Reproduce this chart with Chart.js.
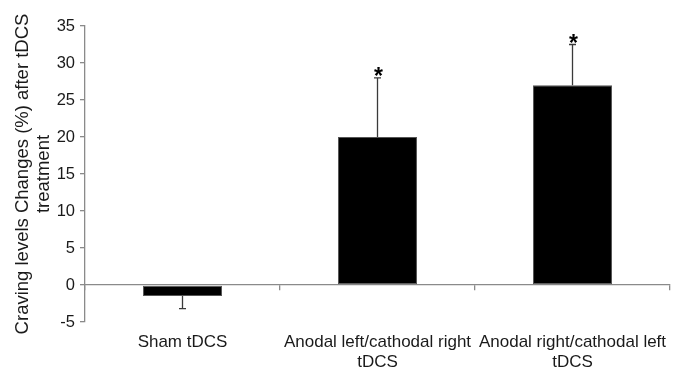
<!DOCTYPE html>
<html>
<head>
<meta charset="utf-8">
<script src="https://cdn.jsdelivr.net/npm/chart.js@4/dist/chart.umd.min.js"></script>
<style>
  html, body { margin: 0; padding: 0; background: #fff; }
  #wrap { width: 675px; height: 370px; position: relative; }
</style>
</head>
<body>
<div id="wrap"><canvas id="c"></canvas></div>
<script>
const categories = [["Sham tDCS"], ["Anodal left/cathodal right", "tDCS"], ["Anodal right/cathodal left", "tDCS"]];
const meanChange = [-1.5, 20, 27];
const errorSize = [1.7, 8, 5.5];
const significant = [false, true, true];
const yTicks = [-5, 0, 5, 10, 15, 20, 25, 30, 35];

const AXIS = '#8a8a8a';
const TEXT = '#1a1a1a';
const FONT = "'Liberation Sans', Arial, sans-serif";

const errorPlugin = {
  id: 'errorBars',
  afterDatasetsDraw(chart) {
    const ctx = chart.ctx;
    const meta = chart.getDatasetMeta(0);
    const y = chart.scales.y;
    ctx.save();
    meta.data.forEach((bar, i) => {
      const v = meanChange[i];
      const e = errorSize[i];
      const end = v >= 0 ? v + e : v - e;
      const x = bar.x;
      const y0 = y.getPixelForValue(v);
      const y1 = y.getPixelForValue(end);
      ctx.strokeStyle = '#3a3a3a';
      ctx.lineWidth = 1.3;
      ctx.beginPath();
      ctx.moveTo(x, y0);
      ctx.lineTo(x, y1);
      ctx.moveTo(x - 3.5, y1);
      ctx.lineTo(x + 3.5, y1);
      ctx.stroke();
      if (significant[i]) {
        ctx.fillStyle = '#000';
        ctx.font = "bold 23px " + FONT;
        ctx.textAlign = 'center';
        ctx.textBaseline = 'alphabetic';
        ctx.fillText('*', x + 1, y1 + 6);
      }
    });
    ctx.restore();
  }
};

new Chart(document.getElementById('c'), {
  type: 'bar',
  data: {
    labels: categories,
    datasets: [{
      data: meanChange,
      backgroundColor: '#000',
      borderColor: '#555',
      borderWidth: 1,
      borderSkipped: false,
      barPercentage: 0.405,
      categoryPercentage: 1.0
    }]
  },
  options: {
    responsive: true,
    maintainAspectRatio: false,
    animation: false,
    devicePixelRatio: 1,
    layout: { padding: { left: 0, right: 5, top: 26, bottom: 0 } },
    plugins: { legend: { display: false }, tooltip: { enabled: false } },
    scales: {
      x: {
        type: 'category',
        position: 'bottom',
        offset: true,
        grid: { display: false, drawTicks: false },
        border: { display: false },
        ticks: {
          color: TEXT,
          font: { family: FONT, size: 17, lineHeight: 1.2 },
          padding: 10,
          maxRotation: 0,
          autoSkip: false
        },
        afterFit(scale) { scale.height = 48; scale.paddingLeft = 0; scale.paddingRight = 0; }
      },
      x2: {
        type: 'category',
        position: { y: 0 },
        offset: true,
        grid: { display: true, drawOnChartArea: false, drawTicks: true, tickLength: 5, offset: true, color: AXIS, lineWidth: 1.3 },
        border: { display: true, color: AXIS, width: 1.3 },
        ticks: { display: false }
      },
      y: {
        min: -5,
        max: 35,
        afterBuildTicks(scale) { scale.ticks = yTicks.map(v => ({ value: v })); },
        grid: { display: true, drawOnChartArea: false, drawTicks: true, tickLength: 5, color: AXIS, lineWidth: 1.3 },
        border: { display: true, color: AXIS, width: 1.3 },
        ticks: { color: TEXT, font: { family: FONT, size: 16.5 }, padding: 5 },
        title: {
          display: true,
          text: ['Craving levels Changes (%) after tDCS', 'treatment'],
          color: TEXT,
          font: { family: FONT, size: 18.5, lineHeight: 1.1 },
          padding: { top: 13, bottom: 0 }
        },
        afterFit(scale) { scale.width = 85; }
      }
    }
  },
  plugins: [errorPlugin]
});
</script>
</body>
</html>
